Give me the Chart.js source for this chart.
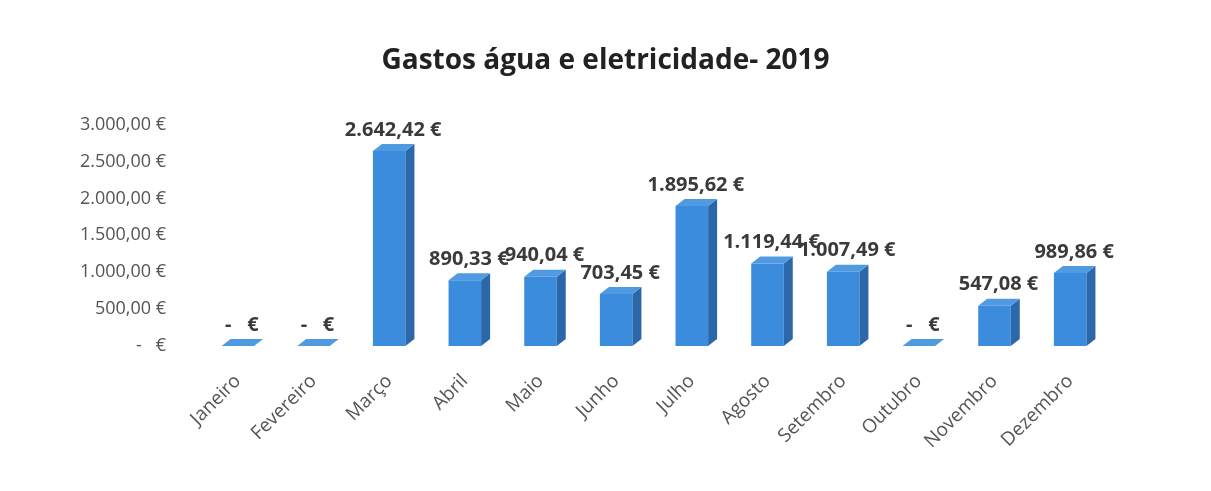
<!DOCTYPE html>
<html>
<head>
<meta charset="utf-8">
<script src="https://cdn.jsdelivr.net/npm/chart.js@4/dist/chart.umd.min.js"></script>
<style>
  html, body { margin: 0; padding: 0; background: #fff; }
  #wrap { width: 1211px; height: 491px; }
</style>
</head>
<body>
<div id="wrap"><canvas id="gastosChart" width="1211" height="491"></canvas></div>
<script>
// data
const meses = ['Janeiro', 'Fevereiro', 'Março', 'Abril', 'Maio', 'Junho', 'Julho', 'Agosto', 'Setembro', 'Outubro', 'Novembro', 'Dezembro'];
const gastos = [0, 0, 2642.42, 890.33, 940.04, 703.45, 1895.62, 1119.44, 1007.49, 0, 547.08, 989.86];
const yTicks = [0, 500, 1000, 1500, 2000, 2500, 3000];

const FONT = '"Open Sans", Lato, sans-serif';

// 1.234,56 € style, zero shown as "-  €"
function euro(v) {
    if (!v) return '-   €';
    const parts = v.toFixed(2).split('.');
    const inteiro = parts[0].replace(/\B(?=(\d{3})+(?!\d))/g, '.');
    return inteiro + ',' + parts[1] + ' €';
}

// fake excel 3D: side + top faces, then the value labels
const bar3d = {
    id: 'bar3d',
    afterDatasetsDraw(chart) {
        const ctx = chart.ctx;
        const meta = chart.getDatasetMeta(0);
        const dx = 9, dy = -7;
        ctx.save();
        meta.data.forEach((bar, i) => {
            const p = bar.getProps(['x', 'y', 'base', 'width'], true);
            const l = p.x - p.width / 2, r = p.x + p.width / 2;
            // side
            ctx.fillStyle = '#2c68a9';
            ctx.beginPath();
            ctx.moveTo(r, p.y);
            ctx.lineTo(r + dx, p.y + dy);
            ctx.lineTo(r + dx, p.base + dy);
            ctx.lineTo(r, p.base);
            ctx.closePath();
            ctx.fill();
            // top
            ctx.fillStyle = '#4f9ae0';
            ctx.beginPath();
            ctx.moveTo(l, p.y);
            ctx.lineTo(l + dx, p.y + dy);
            ctx.lineTo(r + dx, p.y + dy);
            ctx.lineTo(r, p.y);
            ctx.closePath();
            ctx.fill();

            ctx.fillStyle = '#3a3a3a';
            ctx.font = 'bold 20px ' + FONT;
            ctx.textAlign = 'center';
            ctx.textBaseline = 'bottom';
            ctx.fillText(euro(gastos[i]), p.x + 4, p.y - 11);
        });
        ctx.restore();
    }
};

new Chart(document.getElementById('gastosChart'), {
    type: 'bar',
    data: {
        labels: meses,
        datasets: [{
            data: gastos,
            backgroundColor: '#3b8cdc',
            borderWidth: 0,
            barPercentage: 0.43,
            categoryPercentage: 1
        }]
    },
    options: {
        responsive: false,
        animation: false,
        layout: { padding: 0 },
        plugins: {
            legend: { display: false },
            tooltip: { enabled: false },
            title: {
                display: true,
                text: 'Gastos água e eletricidade- 2019',
                color: '#222',
                font: { family: FONT, size: 28, weight: 'bold' },
                padding: { top: 44, bottom: 47 }
            }
        },
        scales: {
            y: {
                min: 0,
                max: 3000,
                afterFit: s => { s.width = 200; },
                afterBuildTicks: s => { s.ticks = yTicks.map(v => ({ value: v })); },
                grid: { display: false },
                border: { display: false },
                ticks: {
                    color: '#555',
                    padding: 26,
                    font: { family: FONT, size: 18 },
                    callback: v => v === 0 ? '-   €' : euro(v)
                }
            },
            // empty right margin so the title centres on the page
            rightPad: {
                position: 'right',
                display: true,
                afterFit: s => { s.width = 103; },
                grid: { display: false },
                border: { display: false },
                ticks: { display: false }
            },
            x: {
                afterFit: s => { s.height = 145; },
                grid: { display: false },
                border: { display: false },
                ticks: {
                    color: '#555',
                    minRotation: 45,
                    maxRotation: 45,
                    padding: 16,
                    font: { family: FONT, size: 19 }
                }
            }
        }
    },
    plugins: [bar3d]
});
</script>
</body>
</html>
